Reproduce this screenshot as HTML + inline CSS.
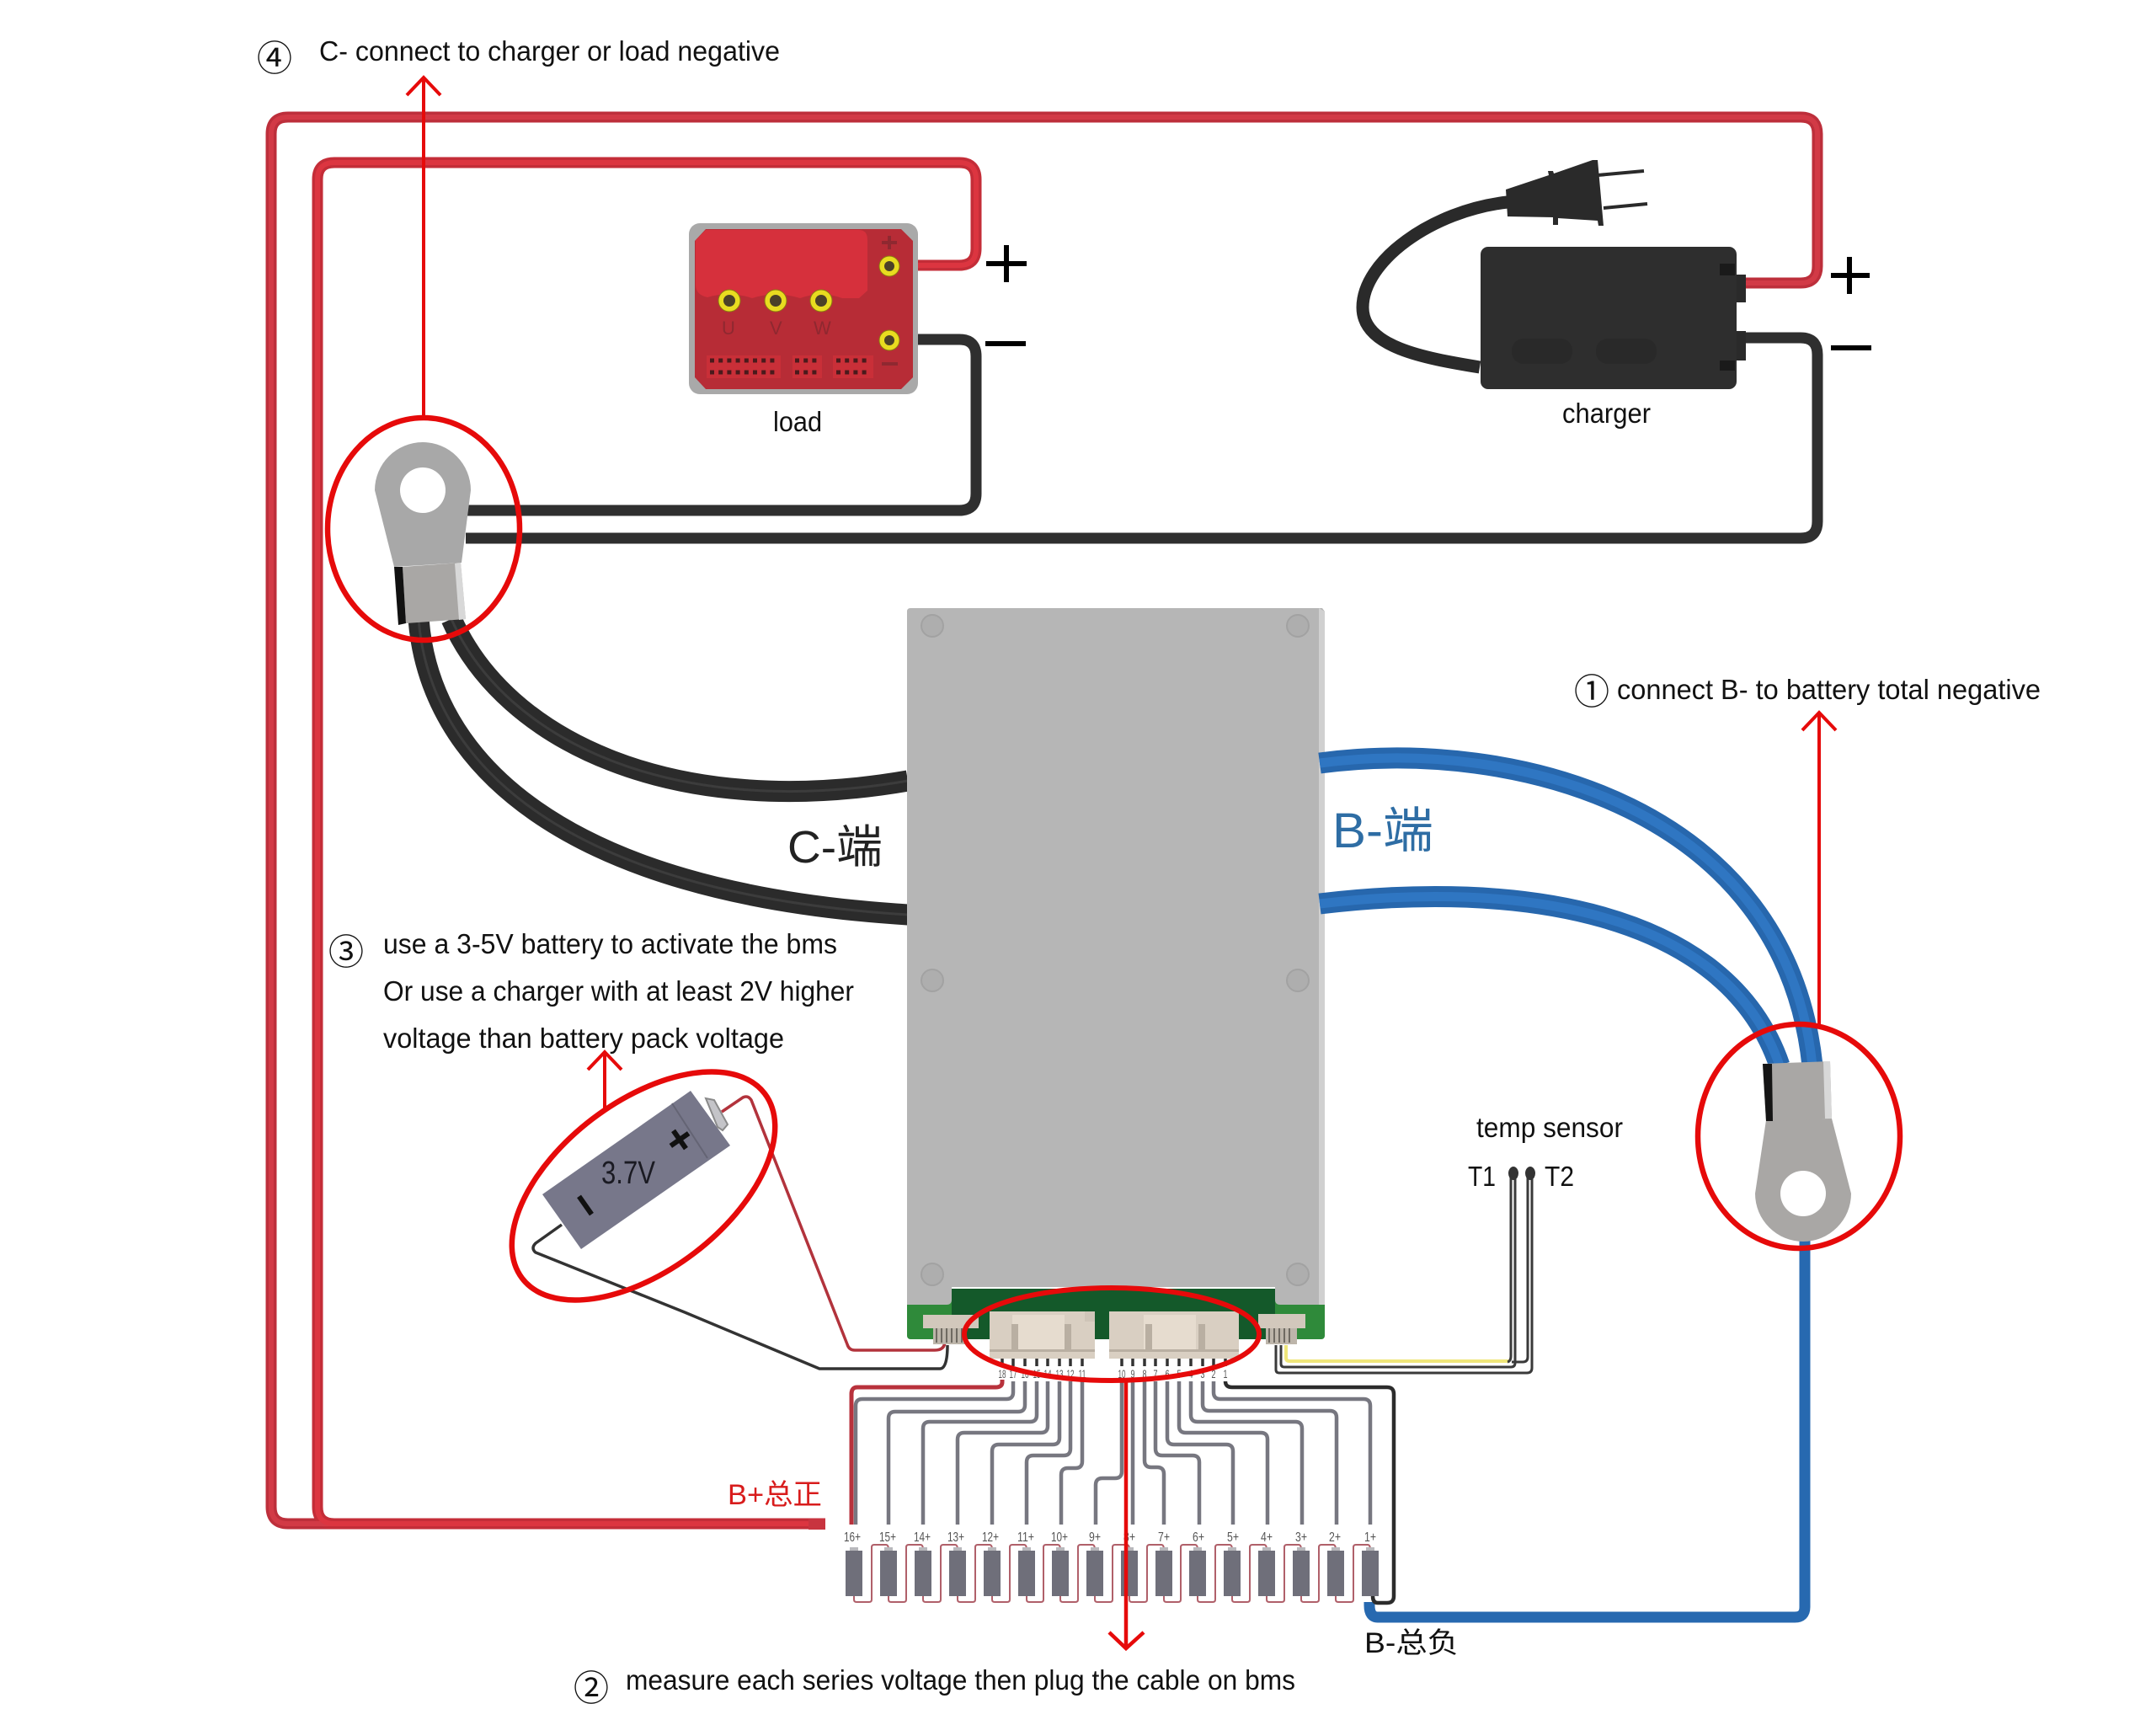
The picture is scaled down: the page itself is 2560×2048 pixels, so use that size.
<!DOCTYPE html>
<html><head><meta charset="utf-8">
<style>
html,body{margin:0;padding:0;background:#fff}
svg{display:block}
text{font-family:"Liberation Sans","Noto Sans CJK SC",sans-serif;fill:#111}
.p text{font-size:14px;text-anchor:middle;fill:#555}
.c text{font-size:16px;text-anchor:middle;fill:#555}
</style></head>
<body>
<svg xmlns="http://www.w3.org/2000/svg" width="2560" height="2048" viewBox="0 0 2560 2048">
<rect width="2560" height="2048" fill="#fff"/>

<!-- power wires -->
<g fill="none" stroke-width="13">
<path d="M980 1809 H342 Q322 1809 322 1789 V159 Q322 139 342 139 H2138 Q2158 139 2158 159 V316 Q2158 336 2138 336 H2072" stroke="#bd2f3b"/>
<path d="M980 1809 H397 Q377 1809 377 1789 V213 Q377 193 397 193 H1139 Q1159 193 1159 213 V295 Q1159 315 1139 315 H1066" stroke="#c42d38"/>
<path d="M1066 403 H1139 Q1159 403 1159 423 V586 Q1159 606 1139 606 H555" stroke="#2f2f2f"/>
<path d="M553 639 H2138 Q2158 639 2158 619 V421 Q2158 401 2138 401 H2072" stroke="#2f2f2f"/>
</g>
<g fill="none" stroke-width="6">
<path d="M980 1809 H342 Q322 1809 322 1789 V159 Q322 139 342 139 H2138 Q2158 139 2158 159 V316 Q2158 336 2138 336 H2072" stroke="#d23a46"/>
<path d="M980 1809 H397 Q377 1809 377 1789 V213 Q377 193 397 193 H1139 Q1159 193 1159 213 V295 Q1159 315 1139 315 H1066" stroke="#dc3540"/>
</g>
<rect x="960" y="1803" width="20" height="13" fill="#c8343f"/>

<!-- load -->
<rect x="818" y="265" width="272" height="203" rx="13" fill="#a9a9a9"/>
<path d="M838 272 H1070 L1084 286 V448 L1070 462 H838 L825 448 V286 Z" fill="#b72c36"/>
<path d="M838 273 H1020 Q1030 273 1030 285 V345 L1020 354 H1000 Q975 345 950 354 Q921 345 893 354 Q866 345 840 353 Q826 350 826 338 V285 Z" fill="#d6303c"/>
<g fill="#e8dc20" stroke="#8a7a10" stroke-width="1">
<circle cx="866" cy="357" r="13"/><circle cx="921" cy="357" r="13"/><circle cx="975" cy="357" r="13"/>
<circle cx="1056" cy="316" r="12"/><circle cx="1056" cy="404" r="12"/>
</g>
<g fill="#4b4128">
<circle cx="866" cy="357" r="7"/><circle cx="921" cy="357" r="7"/><circle cx="975" cy="357" r="7"/>
<circle cx="1056" cy="316" r="6"/><circle cx="1056" cy="404" r="6"/>
</g>
<g fill="#c92f38">
<rect x="839" y="422" width="88" height="27"/><rect x="941" y="422" width="35" height="27"/><rect x="989" y="422" width="48" height="27"/>
</g>
<g stroke="#4a1a1c" stroke-width="5" stroke-dasharray="5 5.2" fill="none">
<path d="M843 428 H920 M843 442 H920 M944 428 H972 M944 442 H972 M993 428 H1032 M993 442 H1032"/>
</g>
<g style="font-size:22px">
<text x="857" y="397" style="fill:#8f2830">U</text><text x="914" y="397" style="fill:#8f2830">V</text><text x="966" y="397" style="fill:#8f2830">W</text>
</g>
<path d="M1047 288 H1065 M1056 280 V296 M1047 432 H1066" stroke="#8f2830" stroke-width="4"/>
<text x="918" y="512" textLength="58" lengthAdjust="spacingAndGlyphs" style="font-size:33px">load</text>
<path d="M1171 313 H1219 M1195 291 V335 M1170 408 H1218 M2174 327 H2220 M2196 305 V349 M2174 413 H2222" stroke="#000" stroke-width="6" fill="none"/>

<!-- charger -->
<path d="M1757 436 C1690 425 1618 412 1618 365 C1618 310 1700 250 1790 240" fill="none" stroke="#2a2a2a" stroke-width="15"/>
<path d="M1788 225 L1839 208 L1838 203 L1844 203 L1845 206 L1891 190 L1897 190 L1904 268 L1898 268 L1897 262 L1850 259 L1850 267 L1844 267 L1844 258 L1790 257 Z" fill="#2a2a2a"/>
<path d="M1897 208 L1952 203 M1904 247 L1956 242" stroke="#2a2a2a" stroke-width="4"/>
<rect x="1758" y="293" width="304" height="169" rx="9" fill="#2e2e2e"/>
<rect x="2062" y="326" width="11" height="33" fill="#2a2a2a"/>
<rect x="2062" y="393" width="11" height="35" fill="#2a2a2a"/>
<rect x="2042" y="313" width="18" height="14" fill="#1a1a1a"/>
<rect x="2042" y="428" width="18" height="12" fill="#1a1a1a"/>
<rect x="1795" y="402" width="72" height="30" rx="14" fill="#292929"/>
<rect x="1895" y="402" width="72" height="30" rx="14" fill="#292929"/>
<text x="1855" y="502" textLength="105" lengthAdjust="spacingAndGlyphs" style="font-size:33px">charger</text>

<!-- top label -->
<text x="305" y="84" style='font-size:42px;font-family:"Noto Sans CJK JP",sans-serif'>④</text>
<text x="379" y="72" textLength="547" lengthAdjust="spacingAndGlyphs" style="font-size:33px">C- connect to charger or load negative</text>

<!-- thick black wires to lug -->
<g fill="none">
<path d="M536 735 C600 880 800 975 1078 927" stroke="#2b2b2b" stroke-width="25"/>
<path d="M497 735 C510 900 660 1060 1078 1086" stroke="#2b2b2b" stroke-width="25"/>
<path d="M536 735 C600 880 800 975 1078 927" stroke="#3c3c3c" stroke-width="3"/>
<path d="M497 735 C510 900 660 1060 1078 1086" stroke="#3c3c3c" stroke-width="3"/>
</g>

<!-- lug C -->
<path d="M445 582 A57 57 0 0 1 559 582 L548 668 L468 673 Z" fill="#a8a8a8"/>
<circle cx="502" cy="582" r="27" fill="#fff"/>
<path d="M478 673 L547 668 L553 735 L482 740 Z" fill="#a9a7a5"/>
<path d="M468 673 L478 673 L482 740 L473 742 Z" fill="#111"/>
<path d="M540 669 L547 668 L553 735 L545 736 Z" fill="#d8d8d8"/>
<ellipse cx="503" cy="628" rx="114" ry="132" fill="none" stroke="#e60a0a" stroke-width="6.5"/>

<!-- BMS board -->
<rect x="1077" y="1500" width="496" height="90" rx="4" fill="#2f8a3a"/>
<rect x="1130" y="1528" width="384" height="62" fill="#14592a"/>
<path d="M1077 726 Q1077 722 1081 722 H1570 L1573 726 V1549 H1520 Q1514 1549 1514 1543 V1529 H1130 V1543 Q1130 1549 1124 1549 H1077 Z" fill="#b6b6b6"/>
<path d="M1566 722 L1573 726 V1549 H1566 Z" fill="#d0d0d0"/>
<path d="M1130 1529 H1514" stroke="#fff" stroke-width="2"/>
<g fill="#aeaeae" stroke="#a2a2a2" stroke-width="2">
<circle cx="1107" cy="743" r="13"/><circle cx="1541" cy="743" r="13"/>
<circle cx="1107" cy="1164" r="13"/><circle cx="1541" cy="1164" r="13"/>
<circle cx="1107" cy="1513" r="13"/><circle cx="1541" cy="1513" r="13"/>
</g>

<!-- blue wires -->
<g fill="none">
<path d="M1567 906 C1800 875 2120 960 2152 1265" stroke="#2767ad" stroke-width="25"/>
<path d="M1567 1073 C1800 1045 2050 1080 2113 1265" stroke="#2767ad" stroke-width="25"/>
<path d="M1567 906 C1800 875 2120 960 2152 1265" stroke="#2f76c2" stroke-width="11"/>
<path d="M1567 1073 C1800 1045 2050 1080 2113 1265" stroke="#2f76c2" stroke-width="11"/>
<path d="M2143 1470 V1908 Q2143 1920 2131 1920 H1636 Q1626 1920 1626 1906 V1902" stroke="#2769b0" stroke-width="13"/>
</g>

<!-- lug B -->
<path d="M2097 1330 L2175 1328 L2198 1417 A57 57 0 0 1 2084 1417 Z" fill="#a9a7a5"/>
<circle cx="2141" cy="1417" r="27" fill="#fff"/>
<path d="M2093 1263 L2173 1260 L2175 1328 L2097 1331 Z" fill="#a9a7a5"/>
<path d="M2093 1263 L2104 1263 L2105 1331 L2097 1331 Z" fill="#151515"/>
<path d="M2165 1260 L2173 1260 L2175 1328 L2167 1328 Z" fill="#d8d8d8"/>
<ellipse cx="2136" cy="1349" rx="120" ry="133" fill="none" stroke="#e60a0a" stroke-width="6.5"/>

<text x="935" y="1024" textLength="113" lengthAdjust="spacingAndGlyphs" style="font-size:54px;fill:#222">C-端</text>
<text x="1582" y="1006" textLength="120" lengthAdjust="spacingAndGlyphs" style="font-size:58px;fill:#2e6da4">B-端</text>

<text x="1920" y="830" textLength="503" lengthAdjust="spacingAndGlyphs" style="font-size:33px">connect B- to battery total negative</text>
<text x="1869" y="836" style='font-size:42px;font-family:"Noto Sans CJK JP",sans-serif'>①</text>

<text x="390" y="1145" style='font-size:42px;font-family:"Noto Sans CJK JP",sans-serif'>③</text>
<text x="455" y="1132" textLength="539" lengthAdjust="spacingAndGlyphs" style="font-size:33px">use a 3-5V battery to activate the bms</text>
<text x="455" y="1188" textLength="559" lengthAdjust="spacingAndGlyphs" style="font-size:33px">Or use a charger with at least 2V higher</text>
<text x="455" y="1244" textLength="476" lengthAdjust="spacingAndGlyphs" style="font-size:33px">voltage than battery pack voltage</text>

<!-- activating battery -->
<g fill="none" stroke-width="3.5">
<path d="M857 1320 L882 1303 Q888 1300 892 1306 L1006 1596 Q1008 1603 1015 1603 H1110 Q1122 1603 1122 1592" stroke="#b2333c"/>
<path d="M667 1454 L636 1476 Q630 1482 636 1487 L813 1558 L973 1625 H1116 Q1125 1625 1125 1597" stroke="#333"/>
</g>
<path d="M820 1295 L867 1360 L690 1483 L644 1418 Z" fill="#77778a"/>
<path d="M798 1310 L840 1375" stroke="#646474" stroke-width="2"/>
<path d="M838 1304 L848 1306 L864 1335 L858 1342 L852 1338 Z" fill="#c4c4c8" stroke="#8a8a8a" stroke-width="2"/>
<text x="714" y="1405" textLength="64" lengthAdjust="spacingAndGlyphs" style="font-size:38px;fill:#1a1a22">3.7V</text>
<g transform="translate(807 1353) rotate(-35)"><path d="M-13 0 H13 M0 -13 V13" stroke="#111" stroke-width="6"/></g>
<g transform="translate(695 1431) rotate(-35)"><path d="M-13 0 H13" stroke="#111" stroke-width="6" transform="rotate(90)"/></g>
<ellipse cx="764" cy="1408" rx="181" ry="100" transform="rotate(-37.3 764 1408)" fill="none" stroke="#e60a0a" stroke-width="6.5"/>

<!-- connectors -->
<rect x="1096" y="1561" width="66" height="16" fill="#d2c8bc"/>
<rect x="1108" y="1577" width="40" height="19" fill="#bdb5aa"/>
<path d="M1112 1577 V1594 M1118 1577 V1594 M1124 1577 V1594 M1130 1577 V1594 M1136 1577 V1594 M1142 1577 V1594" stroke="#6f6a62" stroke-width="2"/>
<rect x="1494" y="1560" width="56" height="17" fill="#d2c8bc"/>
<rect x="1503" y="1577" width="37" height="19" fill="#bdb5aa"/>
<path d="M1507 1577 V1594 M1513 1577 V1594 M1519 1577 V1594 M1525 1577 V1594 M1531 1577 V1594" stroke="#6f6a62" stroke-width="2"/>
<rect x="1175" y="1557" width="125" height="56" fill="#d9cfc2"/>
<rect x="1317" y="1557" width="154" height="56" fill="#d9cfc2"/>
<rect x="1202" y="1561" width="62" height="44" fill="#e6dccf"/>
<rect x="1358" y="1561" width="62" height="44" fill="#e6dccf"/>
<g fill="#b9afa2">
<rect x="1201" y="1572" width="8" height="32"/><rect x="1264" y="1572" width="8" height="32"/>
<rect x="1360" y="1572" width="8" height="32"/><rect x="1423" y="1572" width="8" height="32"/>
<rect x="1175" y="1602" width="125" height="3"/><rect x="1317" y="1602" width="154" height="3"/>
</g>
<rect x="1288" y="1557" width="12" height="12" fill="#cfc5b8"/>

<!-- pins -->
<path d="M1190 1613 V1622 M1203 1613 V1622 M1217 1613 V1622 M1231 1613 V1622 M1244 1613 V1622 M1258 1613 V1622 M1271 1613 V1622 M1285 1613 V1622 M1332 1613 V1622 M1345 1613 V1622 M1359 1613 V1622 M1372 1613 V1622 M1386 1613 V1622 M1400 1613 V1622 M1414 1613 V1622 M1428 1613 V1622 M1441 1613 V1622 M1455 1613 V1622" stroke="#333" stroke-width="3.5"/>
<g class="p">
<text x="1190" y="1636" textLength="9" lengthAdjust="spacingAndGlyphs">18</text><text x="1203" y="1636" textLength="9" lengthAdjust="spacingAndGlyphs">17</text><text x="1217" y="1636" textLength="9" lengthAdjust="spacingAndGlyphs">16</text><text x="1231" y="1636" textLength="9" lengthAdjust="spacingAndGlyphs">15</text><text x="1244" y="1636" textLength="9" lengthAdjust="spacingAndGlyphs">14</text><text x="1258" y="1636" textLength="9" lengthAdjust="spacingAndGlyphs">13</text><text x="1271" y="1636" textLength="9" lengthAdjust="spacingAndGlyphs">12</text><text x="1285" y="1636" textLength="9" lengthAdjust="spacingAndGlyphs">11</text>
<text x="1332" y="1636" textLength="9" lengthAdjust="spacingAndGlyphs">10</text><text x="1345" y="1636" textLength="5" lengthAdjust="spacingAndGlyphs">9</text><text x="1359" y="1636" textLength="5" lengthAdjust="spacingAndGlyphs">8</text><text x="1372" y="1636" textLength="5" lengthAdjust="spacingAndGlyphs">7</text><text x="1386" y="1636" textLength="5" lengthAdjust="spacingAndGlyphs">6</text><text x="1400" y="1636" textLength="5" lengthAdjust="spacingAndGlyphs">5</text><text x="1414" y="1636" textLength="5" lengthAdjust="spacingAndGlyphs">4</text><text x="1428" y="1636" textLength="5" lengthAdjust="spacingAndGlyphs">3</text><text x="1441" y="1636" textLength="5" lengthAdjust="spacingAndGlyphs">2</text><text x="1455" y="1636" textLength="5" lengthAdjust="spacingAndGlyphs">1</text>
</g>

<!-- sense wires -->
<g fill="none" stroke="#777780" stroke-width="4.5">
<path d="M1203 1640 V1653 Q1203 1661 1195 1661 H1024 Q1016 1661 1016 1669 V1810"/>
<path d="M1217 1640 V1668 Q1217 1676 1209 1676 H1063 Q1055 1676 1055 1684 V1810"/>
<path d="M1231 1640 V1680 Q1231 1688 1223 1688 H1104 Q1096 1688 1096 1696 V1810"/>
<path d="M1244 1640 V1693 Q1244 1701 1236 1701 H1145 Q1137 1701 1137 1709 V1810"/>
<path d="M1258 1640 V1707 Q1258 1715 1250 1715 H1186 Q1178 1715 1178 1723 V1810"/>
<path d="M1271 1640 V1720 Q1271 1728 1263 1728 H1227 Q1219 1728 1219 1736 V1810"/>
<path d="M1285 1640 V1735 Q1285 1743 1277 1743 H1268 Q1260 1743 1260 1751 V1810"/>
<path d="M1332 1640 V1747 Q1332 1755 1324 1755 H1309 Q1301 1755 1301 1763 V1810"/>
<path d="M1345 1640 V1810"/>
<path d="M1359 1640 V1734 Q1359 1742 1367 1742 H1374 Q1382 1742 1382 1750 V1810"/>
<path d="M1372 1640 V1720 Q1372 1728 1380 1728 H1416 Q1424 1728 1424 1736 V1810"/>
<path d="M1386 1640 V1707 Q1386 1715 1394 1715 H1456 Q1464 1715 1464 1723 V1810"/>
<path d="M1400 1640 V1693 Q1400 1701 1408 1701 H1497 Q1505 1701 1505 1709 V1810"/>
<path d="M1414 1640 V1680 Q1414 1688 1422 1688 H1538 Q1546 1688 1546 1696 V1810"/>
<path d="M1428 1640 V1667 Q1428 1675 1436 1675 H1579 Q1587 1675 1587 1683 V1810"/>
<path d="M1441 1640 V1653 Q1441 1661 1449 1661 H1619 Q1627 1661 1627 1669 V1810"/>
</g>
<path d="M1190 1638 V1641 Q1190 1647 1182 1647 H1018 Q1011 1647 1011 1655 V1810" fill="none" stroke="#b8323c" stroke-width="5"/>
<path d="M1455 1640 Q1455 1647 1463 1647 H1647 Q1655 1647 1655 1655 V1895 Q1655 1903 1647 1903 H1636 Q1630 1903 1630 1895" fill="none" stroke="#2c2c2c" stroke-width="4.5"/>

<!-- cell links -->
<path fill="none" stroke="#b0606a" stroke-width="2" d="M1014 1895 V1899 Q1014 1902 1017 1902 H1032 Q1035 1902 1035 1899 V1837 Q1035 1834 1038 1834 H1052 Q1055 1834 1055 1840 M1055 1895 V1899 Q1055 1902 1058 1902 H1073 Q1076 1902 1076 1899 V1837 Q1076 1834 1079 1834 H1093 Q1096 1834 1096 1840 M1096 1895 V1899 Q1096 1902 1099 1902 H1114 Q1117 1902 1117 1899 V1837 Q1117 1834 1120 1834 H1134 Q1137 1834 1137 1840 M1137 1895 V1899 Q1137 1902 1140 1902 H1155 Q1158 1902 1158 1899 V1837 Q1158 1834 1161 1834 H1175 Q1178 1834 1178 1840 M1178 1895 V1899 Q1178 1902 1181 1902 H1196 Q1199 1902 1199 1899 V1837 Q1199 1834 1202 1834 H1216 Q1219 1834 1219 1840 M1219 1895 V1899 Q1219 1902 1222 1902 H1236 Q1239 1902 1239 1899 V1837 Q1239 1834 1242 1834 H1256 Q1259 1834 1259 1840 M1259 1895 V1899 Q1259 1902 1262 1902 H1277 Q1280 1902 1280 1899 V1837 Q1280 1834 1283 1834 H1297 Q1300 1834 1300 1840 M1300 1895 V1899 Q1300 1902 1303 1902 H1318 Q1321 1902 1321 1899 V1837 Q1321 1834 1324 1834 H1338 Q1341 1834 1341 1840 M1341 1895 V1899 Q1341 1902 1344 1902 H1359 Q1362 1902 1362 1899 V1837 Q1362 1834 1365 1834 H1379 Q1382 1834 1382 1840 M1382 1895 V1899 Q1382 1902 1385 1902 H1399 Q1402 1902 1402 1899 V1837 Q1402 1834 1405 1834 H1419 Q1422 1834 1422 1840 M1422 1895 V1899 Q1422 1902 1425 1902 H1440 Q1443 1902 1443 1899 V1837 Q1443 1834 1446 1834 H1460 Q1463 1834 1463 1840 M1463 1895 V1899 Q1463 1902 1466 1902 H1481 Q1484 1902 1484 1899 V1837 Q1484 1834 1487 1834 H1501 Q1504 1834 1504 1840 M1504 1895 V1899 Q1504 1902 1507 1902 H1522 Q1525 1902 1525 1899 V1837 Q1525 1834 1528 1834 H1542 Q1545 1834 1545 1840 M1545 1895 V1899 Q1545 1902 1548 1902 H1563 Q1566 1902 1566 1899 V1837 Q1566 1834 1569 1834 H1583 Q1586 1834 1586 1840 M1586 1895 V1899 Q1586 1902 1589 1902 H1604 Q1607 1902 1607 1899 V1837 Q1607 1834 1610 1834 H1624 Q1627 1834 1627 1840"/>

<!-- cells -->
<path fill="none" stroke="#b8b8bc" stroke-width="4" d="M1009 1839 H1019 M1050 1839 H1060 M1091 1839 H1101 M1132 1839 H1142 M1173 1839 H1183 M1214 1839 H1224 M1254 1839 H1264 M1295 1839 H1305 M1336 1839 H1346 M1377 1839 H1387 M1417 1839 H1427 M1458 1839 H1468 M1499 1839 H1509 M1540 1839 H1550 M1581 1839 H1591 M1622 1839 H1632"/>
<g fill="#6f6f7a">
<rect x="1004" y="1841" width="20" height="54"/><rect x="1045" y="1841" width="20" height="54"/><rect x="1086" y="1841" width="20" height="54"/><rect x="1127" y="1841" width="20" height="54"/><rect x="1168" y="1841" width="20" height="54"/><rect x="1209" y="1841" width="20" height="54"/><rect x="1249" y="1841" width="20" height="54"/><rect x="1290" y="1841" width="20" height="54"/><rect x="1331" y="1841" width="20" height="54"/><rect x="1372" y="1841" width="20" height="54"/><rect x="1412" y="1841" width="20" height="54"/><rect x="1453" y="1841" width="20" height="54"/><rect x="1494" y="1841" width="20" height="54"/><rect x="1535" y="1841" width="20" height="54"/><rect x="1576" y="1841" width="20" height="54"/><rect x="1617" y="1841" width="20" height="54"/>
</g>
<g class="c">
<text x="1012" y="1830" textLength="20" lengthAdjust="spacingAndGlyphs">16+</text><text x="1054" y="1830" textLength="20" lengthAdjust="spacingAndGlyphs">15+</text><text x="1095" y="1830" textLength="20" lengthAdjust="spacingAndGlyphs">14+</text><text x="1135" y="1830" textLength="20" lengthAdjust="spacingAndGlyphs">13+</text><text x="1176" y="1830" textLength="20" lengthAdjust="spacingAndGlyphs">12+</text><text x="1218" y="1830" textLength="20" lengthAdjust="spacingAndGlyphs">11+</text><text x="1258" y="1830" textLength="20" lengthAdjust="spacingAndGlyphs">10+</text><text x="1300" y="1830" textLength="14" lengthAdjust="spacingAndGlyphs">9+</text><text x="1341" y="1830" textLength="14" lengthAdjust="spacingAndGlyphs">8+</text><text x="1382" y="1830" textLength="14" lengthAdjust="spacingAndGlyphs">7+</text><text x="1423" y="1830" textLength="14" lengthAdjust="spacingAndGlyphs">6+</text><text x="1464" y="1830" textLength="14" lengthAdjust="spacingAndGlyphs">5+</text><text x="1504" y="1830" textLength="14" lengthAdjust="spacingAndGlyphs">4+</text><text x="1545" y="1830" textLength="14" lengthAdjust="spacingAndGlyphs">3+</text><text x="1585" y="1830" textLength="14" lengthAdjust="spacingAndGlyphs">2+</text><text x="1627" y="1830" textLength="14" lengthAdjust="spacingAndGlyphs">1+</text>
</g>

<!-- temp sensor -->
<g fill="none" stroke-width="3">
<path d="M1527 1597 V1612 Q1527 1616 1531 1616 H1792" stroke="#efe67a" stroke-width="4"/>
<path d="M1521 1597 V1619 Q1521 1623 1525 1623 H1794 Q1799 1623 1799 1618 V1395" stroke="#3a3a3a"/>
<path d="M1515 1597 V1626 Q1515 1630 1519 1630 H1813 Q1819 1630 1819 1624 V1395" stroke="#3a3a3a"/>
<path d="M1790 1617 Q1794 1616 1794 1610 V1395" stroke="#3a3a3a"/>
<path d="M1795 1617 H1808 Q1814 1617 1814 1611 V1395" stroke="#3a3a3a"/>
</g>
<ellipse cx="1797" cy="1393" rx="6" ry="8" fill="#333"/>
<ellipse cx="1817" cy="1393" rx="6" ry="8" fill="#333"/>
<text x="1753" y="1350" textLength="174" lengthAdjust="spacingAndGlyphs" style="font-size:33px">temp sensor</text>
<text x="1743" y="1408" textLength="33" lengthAdjust="spacingAndGlyphs" style="font-size:33px">T1</text>
<text x="1834" y="1408" textLength="35" lengthAdjust="spacingAndGlyphs" style="font-size:33px">T2</text>

<text x="864" y="1786" textLength="112" lengthAdjust="spacingAndGlyphs" style="font-size:34px;fill:#d81c1c">B+总正</text>
<text x="1620" y="1962" textLength="112" lengthAdjust="spacingAndGlyphs" style="font-size:34px">B-总负</text>
<text x="681" y="2019" style='font-size:42px;font-family:"Noto Sans CJK JP",sans-serif'>②</text>
<text x="743" y="2006" textLength="795" lengthAdjust="spacingAndGlyphs" style="font-size:33px">measure each series voltage then plug the cable on bms</text>

<!-- red ellipse on connectors & arrows -->
<ellipse cx="1320" cy="1584" rx="175" ry="55" fill="none" stroke="#e60a0a" stroke-width="6"/>
<g fill="none" stroke="#e60a0a" stroke-width="4">
<path d="M503 495 V93 M483 113 L503 92 L523 113"/>
<path d="M2160 1216 V847 M2140 867 L2160 846 L2180 867"/>
<path d="M718 1320 V1250 M698 1270 L718 1249 L738 1270"/>
<path d="M1337 1639 V1956 M1317 1938 L1337 1957 L1358 1938" stroke-width="4.5"/>
</g>
</svg>
</body></html>
